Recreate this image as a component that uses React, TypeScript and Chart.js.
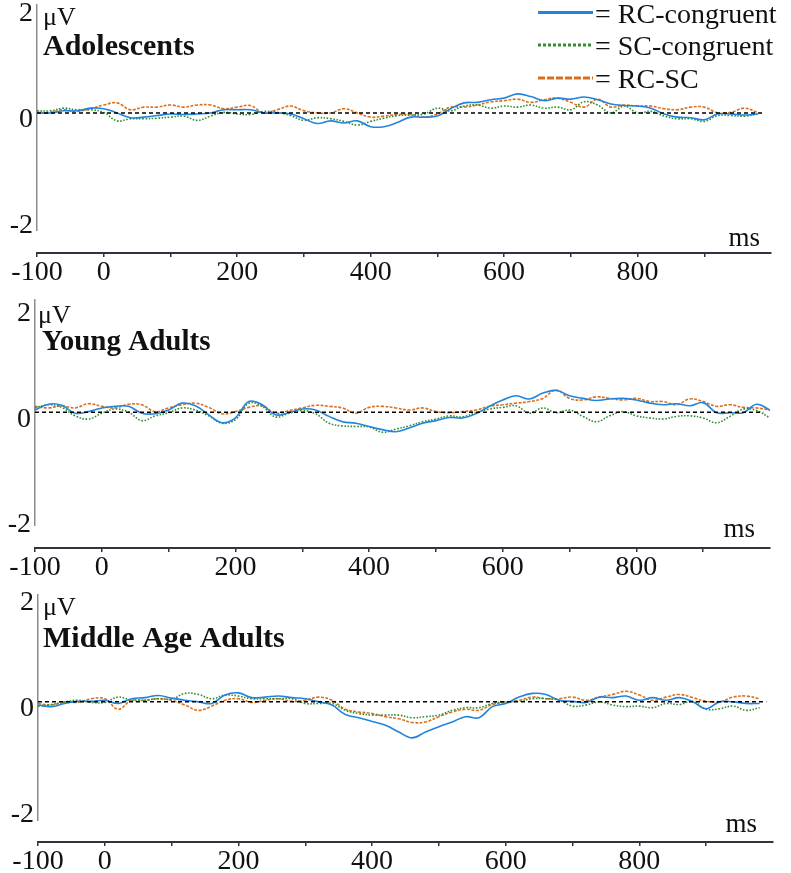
import React, { useEffect, useRef } from "react";
import { Chart, registerables } from "chart.js";

Chart.register(...registerables);

// ---------------- data ----------------
const timesMs = [
  -100, -80, -60, -40, -20, 0, 20, 40, 60, 80,
  100, 120, 140, 160, 180, 200, 220, 240, 260, 280,
  300, 320, 340, 360, 380, 400, 420, 440, 460, 480,
  500, 520, 540, 560, 580, 600, 620, 640, 660, 680,
  700, 720, 740, 760, 780, 800, 820, 840, 860, 880,
  900, 920, 940, 960, 980, 1000,
];
const xTickPositions = [-100, 0, 100, 200, 300, 400, 500, 600, 700, 800, 900];
const xTickLabels = [-100, 0, 200, 400, 600, 800];
const yTickValues = [2, 0, -2];
const zeroLineX = [-100, 990];
const seriesNames = ["RC-congruent", "SC-congruent", "RC-SC"];
const panelTitles = ["Adolescents", "Young Adults", "Middle Age Adults"];
const unitY = "μV";
const unitX = "ms";

// Adolescents
const adoRC = [
  0, 0, 0.04, 0.04, 0.09, 0.08, 0, -0.09, -0.08, -0.05,
  -0.02, -0.03, -0.02, 0, 0.06, 0.06, 0.06, 0, 0, -0.02,
  -0.11, -0.2, -0.15, -0.19, -0.15, -0.26, -0.26, -0.18, -0.08, -0.08,
  -0.06, 0.08, 0.19, 0.2, 0.25, 0.28, 0.36, 0.31, 0.23, 0.28,
  0.26, 0.3, 0.25, 0.17, 0.14, 0.13, 0.09, -0.02, -0.08, -0.09,
  -0.13, -0.02, -0.02, -0.04, -0.02,
];
const adoSC = [
  0.04, 0.04, 0.09, 0.06, 0.06, 0.01, -0.15, -0.11, -0.11, -0.1,
  -0.08, -0.06, -0.14, -0.06, 0.01, -0.02, -0.03, 0.03, 0.01, -0.05,
  -0.14, -0.09, -0.11, -0.16, -0.23, -0.16, -0.1, -0.05, -0.04, -0.02,
  0.09, 0.04, 0.13, 0.15, 0.09, 0.13, 0.11, 0.15, 0.09, 0.11,
  0.06, 0.21, 0.15, 0, 0.13, 0, 0.03, -0.06, -0.11, -0.11,
  -0.16, -0.05, -0.05, -0.06, -0.02,
];
const adoRCSC = [
  0.01, 0.01, 0.06, 0.03, 0.08, 0.15, 0.19, 0.06, 0.11, 0.11,
  0.15, 0.11, 0.15, 0.15, 0.08, 0.11, 0.14, 0, 0.06, 0.13,
  0.04, 0, 0, 0.08, 0, -0.08, -0.06, -0.03, -0.03, -0.08,
  -0.02, 0.11, 0.11, 0.15, 0.21, 0.23, 0.26, 0.2, 0.25, 0.28,
  0.2, 0.11, 0.26, 0.11, 0.15, 0.13, 0.13, 0.08, 0.06, 0.11,
  0.11, 0, 0.01, 0.09, 0.01,
];

// Young adults
const yaRC = [
  0.04, 0.15, 0.13, -0.02, 0.01, 0.08, 0.11, 0.11, -0.02, -0.03,
  0.04, 0.17, 0.12, -0.05, -0.2, -0.11, 0.2, 0.14, -0.05, -0.01,
  0.06, 0.04, -0.08, -0.18, -0.21, -0.27, -0.33, -0.37, -0.3, -0.21,
  -0.16, -0.1, -0.11, -0.03, 0.11, 0.23, 0.31, 0.25, 0.36, 0.41,
  0.31, 0.26, 0.22, 0.25, 0.26, 0.23, 0.17, 0.14, 0.16, 0.12,
  0.18, -0.01, -0.01, -0.01, 0.15, 0.04,
];
const yaSC = [
  0.08, 0.14, 0.09, -0.07, -0.13, -0.02, 0.06, 0, -0.16, -0.07,
  -0.01, 0.08, 0.04, -0.07, -0.21, -0.14, 0.17, 0.11, -0.09, -0.02,
  0.03, -0.03, -0.21, -0.26, -0.27, -0.28, -0.38, -0.32, -0.26, -0.18,
  -0.13, -0.07, -0.09, -0.01, 0.06, 0.09, 0.12, -0.02, 0.08, -0.01,
  0.04, -0.08, -0.18, -0.07, 0.01, -0.07, -0.11, -0.13, -0.08, -0.07,
  -0.11, -0.2, -0.08, 0.06, 0.03, -0.11,
];
const yaRCSC = [
  0.11, 0.08, 0.12, 0.08, 0.16, 0.11, 0.08, 0.15, 0.14, 0.01,
  0.08, 0.14, 0.17, 0.09, -0.03, 0.01, 0.09, 0.12, -0.02, 0.03,
  0.08, 0.13, 0.11, 0.08, -0.02, 0.09, 0.11, 0.08, 0.04, 0.08,
  0.01, -0.01, 0.01, 0.04, 0.11, 0.14, 0.17, 0.2, 0.26, 0.42,
  0.26, 0.23, 0.29, 0.26, 0.23, 0.26, 0.2, 0.2, 0.14, 0.25,
  0.2, 0.11, 0.14, 0.09, 0.08, 0.04,
];

// Middle age adults
const maRC = [
  -0.06, -0.09, -0.03, 0.01, 0.01, 0.03, -0.03, 0.06, 0.08, 0.12,
  0.07, 0.03, 0, -0.03, 0.13, 0.17, 0.08, 0.09, 0.11, 0.08,
  0.06, 0, -0.06, -0.24, -0.3, -0.37, -0.44, -0.57, -0.68, -0.57,
  -0.47, -0.38, -0.28, -0.3, -0.09, -0.03, 0.09, 0.16, 0.14, 0.03,
  0.01, -0.01, 0.09, 0.08, 0.11, 0.03, 0.08, 0.03, 0.08, 0,
  -0.13, 0, 0, -0.03, -0.03,
];
const maSC = [
  -0.08, -0.05, 0, 0.03, -0.01, -0.01, 0.09, 0.03, 0.03, 0.06,
  0.05, 0.16, 0.14, 0.06, 0.13, 0.11, 0.06, 0.06, 0.06, 0.06,
  -0.03, -0.03, -0.03, -0.16, -0.22, -0.25, -0.25, -0.25, -0.3, -0.28,
  -0.25, -0.16, -0.11, -0.11, -0.03, 0, 0.01, 0.06, 0.06, 0.03,
  -0.08, -0.06, 0, -0.06, -0.09, -0.08, -0.11, -0.03, -0.05, 0.01,
  -0.14, -0.13, -0.08, -0.16, -0.11,
];
const maRCSC = [
  -0.03, -0.06, 0, -0.01, 0.06, 0.06, -0.14, 0.03, 0.03, 0.06,
  0.03, -0.06, -0.16, -0.08, 0.03, 0.06, -0.01, 0.03, 0.06, 0.01,
  0.03, 0.09, 0.03, -0.14, -0.19, -0.22, -0.28, -0.32, -0.39, -0.38,
  -0.28, -0.19, -0.14, -0.16, -0.05, -0.01, 0.03, 0.09, 0.06, 0.06,
  0.09, 0.03, 0.09, 0.14, 0.2, 0.13, 0.03, 0.09, 0.14, 0.08,
  0.01, 0, 0.09, 0.11, 0.06,
];

const panelSeries = [
  [adoRC, adoSC, adoRCSC],
  [yaRC, yaSC, yaRCSC],
  [maRC, maSC, maRCSC],
];

// ---------------- styles ----------------
const FONT = "'Liberation Serif', 'Times New Roman', serif";
const TEXT = "#111111";
const SERIES_STYLE = [
  { color: "#2184df", dash: [] as number[], legendDash: [] as number[] },
  { color: "#2f8f2f", dash: [1.6, 1.6], legendDash: [3, 2] },
  { color: "#dd6f1c", dash: [3, 1.5], legendDash: [7, 2] },
];

type PanelLayout = {
  top: number;
  height: number;
  axisLeft: number;
  rightPad: number;
  yMax: number;
  xShift: number;
  uv: [number, number];
  title: [number, number, number];
  ms: [number, number];
};

const Y_RANGE = 4.253;

const LAYOUTS: PanelLayout[] = [
  { top: 0, height: 295, axisLeft: 37, rightPad: 20, yMax: 2.04, xShift: 23, uv: [43, 25], title: [43, 55, 30], ms: [760, 246] },
  { top: 295, height: 295, axisLeft: 35, rightPad: 21, yMax: 2.12, xShift: 23, uv: [38, 28], title: [42, 55, 29], ms: [755, 242] },
  { top: 590, height: 283, axisLeft: 38, rightPad: 18, yMax: 2.02, xShift: 22, uv: [43, 25], title: [43, 57, 30], ms: [757, 242] },
];

function Panel({ index }: { index: number }) {
  const ref = useRef<HTMLCanvasElement | null>(null);
  const L = LAYOUTS[index];

  useEffect(() => {
    const canvas = ref.current;
    if (!canvas) return;
    const series = panelSeries[index];

    const datasets: any[] = [
      {
        label: "baseline",
        data: zeroLineX.map((x) => ({ x, y: 0 })),
        borderColor: "#000000",
        borderWidth: 1.5,
        borderDash: [4, 3],
        pointRadius: 0,
        tension: 0,
        fill: false,
      },
    ];
    series.forEach((vals, si) => {
      datasets.push({
        label: seriesNames[si],
        data: vals.map((y, i) => ({ x: timesMs[i], y })),
        borderColor: SERIES_STYLE[si].color,
        borderWidth: 1.6,
        borderDash: SERIES_STYLE[si].dash,
        pointRadius: 0,
        tension: 0.4,
        fill: false,
      });
    });

    const shiftPlugin = {
      id: "shiftX",
      afterLayout(chart: any) {
        const s = chart.scales.x;
        s.top += L.xShift;
        s.bottom += L.xShift;
      },
    };

    const textPlugin = {
      id: "panelText",
      afterDraw(chart: any) {
        const ctx = chart.ctx as CanvasRenderingContext2D;
        ctx.save();
        ctx.fillStyle = TEXT;
        ctx.textBaseline = "alphabetic";
        ctx.textAlign = "left";
        ctx.font = `26px ${FONT}`;
        ctx.fillText(unitY, L.uv[0], L.uv[1]);
        ctx.font = `bold ${L.title[2]}px ${FONT}`;
        ctx.fillText(panelTitles[index], L.title[0], L.title[1]);
        ctx.textAlign = "right";
        ctx.font = `27px ${FONT}`;
        ctx.fillText(unitX, L.ms[0], L.ms[1]);

        if (index === 0) {
          const lineY = [12.5, 45, 78];
          const baseY = [23, 55, 88];
          seriesNames.forEach((name, si) => {
            ctx.save();
            ctx.strokeStyle = SERIES_STYLE[si].color;
            ctx.lineWidth = 3;
            ctx.setLineDash(SERIES_STYLE[si].legendDash);
            ctx.beginPath();
            ctx.moveTo(538, lineY[si]);
            ctx.lineTo(593, lineY[si]);
            ctx.stroke();
            ctx.restore();
            ctx.textAlign = "left";
            ctx.font = `28px ${FONT}`;
            ctx.fillStyle = TEXT;
            ctx.fillText("= " + name, 595, baseY[si]);
          });
        }
        ctx.restore();
      },
    };

    const chart = new Chart(canvas, {
      type: "line",
      data: { datasets },
      options: {
        responsive: false,
        maintainAspectRatio: false,
        animation: false,
        events: [],
        layout: { padding: { top: 5, left: 0, right: L.rightPad, bottom: 0 } },
        plugins: {
          legend: { display: false },
          tooltip: { enabled: false },
          title: { display: false },
        },
        scales: {
          x: {
            type: "linear",
            min: -100,
            max: 1000,
            afterBuildTicks: (s: any) => {
              s.ticks = xTickPositions.map((v) => ({ value: v }));
            },
            afterFit: (s: any) => {
              s.height = L.height - 230;
              s.paddingLeft = 0;
              s.paddingRight = 0;
            },
            ticks: {
              autoSkip: false,
              maxRotation: 0,
              minRotation: 0,
              padding: 2,
              color: TEXT,
              font: { family: FONT, size: 28, lineHeight: 1 },
              callback: (v: any) => (xTickLabels.includes(Number(v)) ? String(v) : ""),
            },
            grid: {
              display: true,
              drawOnChartArea: false,
              drawTicks: true,
              tickLength: 4,
              color: "#333333",
              lineWidth: 1.5,
            },
            border: { display: true, color: "#333340", width: 2 },
          },
          y: {
            type: "linear",
            min: L.yMax - Y_RANGE,
            max: L.yMax,
            afterBuildTicks: (s: any) => {
              s.ticks = yTickValues.map((v) => ({ value: v }));
            },
            afterFit: (s: any) => {
              s.width = L.axisLeft;
              s.paddingTop = 0;
              s.paddingBottom = 0;
            },
            ticks: {
              padding: 4,
              labelOffset: 7,
              color: TEXT,
              font: { family: FONT, size: 28, lineHeight: 1 },
              callback: (v: any) => String(v),
            },
            grid: { display: false, drawTicks: false, tickLength: 0 },
            border: { display: true, color: "#8c8c8c", width: 1.5 },
          },
        },
      } as any,
      plugins: [shiftPlugin, textPlugin],
    });

    return () => chart.destroy();
  }, [index]);

  return (
    <canvas
      ref={ref}
      width={791}
      height={L.height}
      style={{ position: "absolute", left: 0, top: L.top, width: 791, height: L.height, display: "block" }}
    />
  );
}

export default function App() {
  return (
    <div
      style={{
        position: "absolute",
        left: 0,
        top: 0,
        width: 791,
        height: 873,
        background: "#ffffff",
        overflow: "hidden",
      }}
    >
      {[0, 1, 2].map((i) => (
        <Panel key={i} index={i} />
      ))}
    </div>
  );
}
